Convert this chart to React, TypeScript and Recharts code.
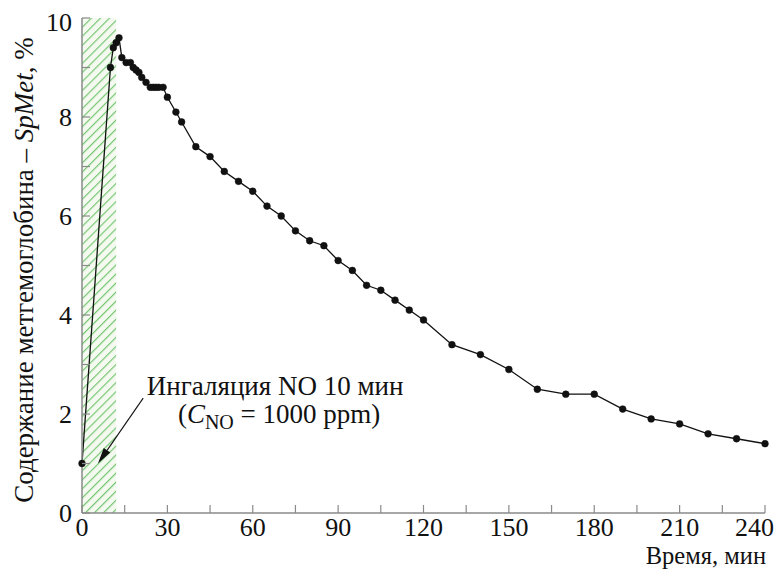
import React from "react";
import {
  LineChart,
  Line,
  XAxis,
  YAxis,
  ReferenceArea,
  ReferenceDot,
  ReferenceLine,
  Label,
} from "recharts";

const timeMin = [
  0, 10, 11, 12, 13, 14, 15.5, 17, 18, 19, 20, 21, 22.5, 24, 25, 26, 27, 28.5,
  30, 33, 35, 40, 45, 50, 55, 60, 65, 70, 75, 80, 85, 90, 95, 100, 105, 110,
  115, 120, 130, 140, 150, 160, 170, 180, 190, 200, 210, 220, 230, 240,
];
const spMet = [
  1.0, 9.0, 9.4, 9.5, 9.6, 9.2, 9.1, 9.1, 9.0, 8.95, 8.9, 8.8, 8.7, 8.6, 8.6,
  8.6, 8.6, 8.6, 8.4, 8.1, 7.9, 7.4, 7.2, 6.9, 6.7, 6.5, 6.2, 6.0, 5.7, 5.5,
  5.4, 5.1, 4.9, 4.6, 4.5, 4.3, 4.1, 3.9, 3.4, 3.2, 2.9, 2.5, 2.4, 2.4, 2.1,
  1.9, 1.8, 1.6, 1.5, 1.4,
];
const xTicks = [0, 15, 30, 45, 60, 75, 90, 105, 120, 135, 150, 165, 180, 195, 210, 225, 240];
const xLabeled = [0, 30, 60, 90, 120, 150, 180, 210, 240];
const yTicks = [0, 1, 2, 3, 4, 5, 6, 7, 8, 9, 10];
const yLabeled = [0, 2, 4, 6, 8, 10];
const inhalation = { start: 0, end: 12 };
const arrowFrom = { x: 21.5, y: 2.32 };
const arrowTo = { x: 5.6, y: 1.0 };
const noteAt = { x: 67.5, y: 2.5 };

const data = timeMin.map((t, i) => ({ t, v: spMet[i] }));

const FONT = "'Liberation Serif', Tinos, 'Times New Roman', Times, 'DejaVu Serif', serif";
const txt = { fontFamily: FONT };
const AXIS = "#8a8a8a";
const TICK = 8;

const XTick = (props: any) => {
  const { x, y, payload } = props;
  const show = xLabeled.includes(payload.value);
  const last = payload.value === 240;
  return (
    <g>
      <line x1={x} y1={y} x2={x} y2={y - TICK} stroke={AXIS} strokeWidth={1.2} />
      {show && (
        <text
          x={last ? x + 9 : x}
          y={y + 23}
          textAnchor={last ? "end" : "middle"}
          style={txt}
          fontSize={26}
          fill="#111"
        >
          {payload.value}
        </text>
      )}
    </g>
  );
};

const YTick = (props: any) => {
  const { x, y, payload } = props;
  const show = yLabeled.includes(payload.value);
  const top = payload.value === 10;
  return (
    <g>
      <line x1={x} y1={y} x2={x + TICK} y2={y} stroke={AXIS} strokeWidth={1.2} />
      {show && (
        <text x={x - 10} y={y + (top ? 13 : 9)} textAnchor="end" style={txt} fontSize={26} fill="#111">
          {payload.value}
        </text>
      )}
    </g>
  );
};

const YTitle = () => (
  <text
    transform="translate(33, 270) rotate(-90)"
    textAnchor="middle"
    style={txt}
    fontSize={27}
    fill="#111"
  >
    Содержание метгемоглобина – <tspan fontStyle="italic">SpMet</tspan>, %
  </text>
);

const XTitle = () => (
  <text x={766} y={563.5} textAnchor="end" style={txt} fontSize={24.5} fill="#111">
    Время, мин
  </text>
);

const Note = (props: any) => {
  const { cx, cy } = props;
  return (
    <g style={txt} fontSize={27} fill="#111">
      <text x={cx + 1} y={cy + 6} textAnchor="middle" style={txt}>
        Ингаляция NO 10 мин
      </text>
      <text x={cx + 5} y={cy + 34} textAnchor="middle" style={txt}>
        (<tspan fontStyle="italic">C</tspan>
        <tspan fontSize={20} dy={6}>NO</tspan>
        <tspan dy={-6}> = 1000 ppm)</tspan>
      </text>
    </g>
  );
};

const Arrow = (props: any) => {
  const { x1, y1, x2, y2 } = props;
  const ax = Number(x1), ay = Number(y1), bx = Number(x2), by = Number(y2);
  const dx = bx - ax, dy = by - ay;
  const len = Math.sqrt(dx * dx + dy * dy) || 1;
  const ux = dx / len, uy = dy / len;
  const hl = 16, hw = 4;
  const baseX = bx - ux * hl, baseY = by - uy * hl;
  const px = -uy * hw, py = ux * hw;
  return (
    <g>
      <line x1={ax} y1={ay} x2={baseX} y2={baseY} stroke="#111" strokeWidth={1.1} />
      <polygon
        points={`${bx},${by} ${baseX + px},${baseY + py} ${baseX - px},${baseY - py}`}
        fill="#111"
      />
    </g>
  );
};

export default function App() {
  return (
    <div style={{ position: "absolute", left: 0, top: 0, background: "#fff", fontFamily: FONT }}>
      <LineChart
        width={781}
        height={569}
        data={data}
        margin={{ top: 18, right: 16, bottom: 26, left: 22 }}
        style={{ fontFamily: FONT }}
      >
        <defs>
          <pattern
            id="hatch"
            patternUnits="userSpaceOnUse"
            width={6.4}
            height={10}
            patternTransform="rotate(45)"
          >
            <rect x={0} y={0} width={6.4} height={10} fill="#f4faef" />
            <line x1={0.6} y1={0} x2={0.6} y2={10} stroke="#6cc26a" strokeWidth={1.1} />
          </pattern>
        </defs>
        <XAxis
          dataKey="t"
          type="number"
          domain={[0, 240]}
          ticks={xTicks}
          interval={0}
          height={30}
          tickSize={0}
          tickMargin={0}
          tickLine={false}
          axisLine={{ stroke: AXIS, strokeWidth: 1.5 }}
          tick={<XTick />}
        >
          <Label content={<XTitle />} />
        </XAxis>
        <YAxis
          type="number"
          domain={[0, 10]}
          ticks={yTicks}
          interval={0}
          width={60}
          tickSize={0}
          tickMargin={0}
          tickLine={false}
          axisLine={{ stroke: AXIS, strokeWidth: 1.5 }}
          tick={<YTick />}
        >
          <Label content={<YTitle />} />
        </YAxis>
        <ReferenceArea
          x1={inhalation.start}
          x2={inhalation.end}
          y1={0}
          y2={10}
          fill="url(#hatch)"
          fillOpacity={1}
          stroke="none"
        />
        <Line
          dataKey="v"
          type="linear"
          stroke="#111"
          strokeWidth={1.3}
          dot={{ r: 3.4, fill: "#111", stroke: "#111", strokeWidth: 0.5 }}
          isAnimationActive={false}
        />
        <ReferenceLine
          segment={[
            { x: arrowFrom.x, y: arrowFrom.y },
            { x: arrowTo.x, y: arrowTo.y },
          ]}
          shape={<Arrow />}
        />
        <ReferenceDot x={noteAt.x} y={noteAt.y} r={0} shape={<Note />} />
      </LineChart>
    </div>
  );
}
